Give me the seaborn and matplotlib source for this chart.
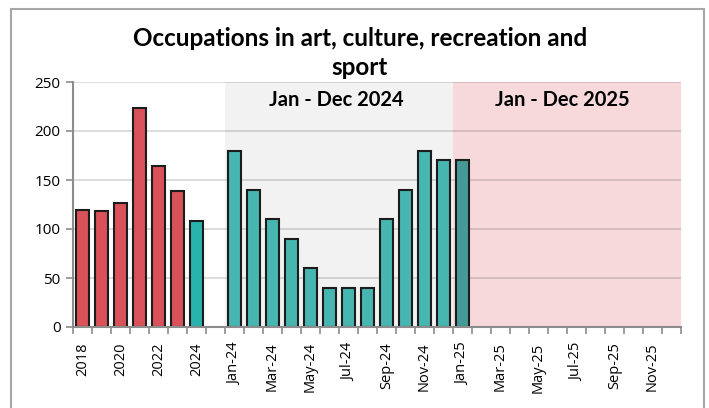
import matplotlib
matplotlib.use("Agg")
import matplotlib.pyplot as plt
import matplotlib.patches as mpatches
import seaborn as sns
import pandas as pd
import numpy as np

# ---- data ----
years = ["2018", "2019", "2020", "2021", "2022", "2023", "2024"]
year_values = [119, 118, 127, 223, 164, 139, 108]
months_2024 = ["Jan-24", "Feb-24", "Mar-24", "Apr-24", "May-24", "Jun-24",
               "Jul-24", "Aug-24", "Sep-24", "Oct-24", "Nov-24", "Dec-24"]
month_values_2024 = [180, 140, 110, 90, 60, 40, 40, 40, 110, 140, 180, 170]
months_2025 = ["Jan-25", "Feb-25", "Mar-25", "Apr-25", "May-25", "Jun-25",
               "Jul-25", "Aug-25", "Sep-25", "Oct-25", "Nov-25", "Dec-25"]
month_values_2025 = [170]
title = "Occupations in art, culture, recreation and\nsport"
region_labels = ["Jan - Dec 2024", "Jan - Dec 2025"]
yticks = [0, 50, 100, 150, 200, 250]

gap = " "
order = years + [gap] + months_2024 + months_2025

cats = years + months_2024 + months_2025[:len(month_values_2025)]
vals = year_values + month_values_2024 + month_values_2025
groups = (["past"] * (len(years) - 1) + ["current"] + ["m24"] * len(months_2024)
          + ["m25"] * len(month_values_2025))
df = pd.DataFrame({"cat": cats, "value": vals, "group": groups})

palette = {"past": "#d9525a", "current": "#29b3ad", "m24": "#47b5b0", "m25": "#459a97"}

plt.rcParams["font.family"] = ["Open Sans", "DejaVu Sans"]
fig = plt.figure(figsize=(7.09, 4.08), dpi=100)
ax = fig.add_axes([73 / 709, 1 - 327 / 408, (681 - 73) / 709, (327 - 82) / 408])

pos = {c: i for i, c in enumerate(order)}
i24 = pos[months_2024[0]] - 0.5
i25 = pos[months_2025[0]] - 0.5
iend = len(order) - 0.5

ax.axvspan(i24, i25, color="#f2f2f2", zorder=0, lw=0)
ax.axvspan(i25, iend, color="#f7d9db", zorder=0, lw=0)

sns.barplot(data=df, x="cat", y="value", hue="group", order=order, palette=palette,
            dodge=False, width=0.68, legend=False, ax=ax, zorder=3, saturation=1,
            edgecolor="#1c1c1c", linewidth=1.5, errorbar=None)

ax.set_xlim(-0.5, iend)
ax.set_ylim(0, 250)
ax.set_yticks(yticks)
ax.yaxis.grid(True, color="black", alpha=0.15, lw=1.3, zorder=1)
ax.set_axisbelow(True)
ax.set_xlabel("")
ax.set_ylabel("")

# x ticks: marks at category boundaries, labels at every other category
ax.set_xticks(np.arange(-0.5, iend + 0.01, 1.0))
ax.set_xticklabels([])
lab_pos = [i for i, c in enumerate(order) if c != gap and (i % 2 == 0)]
ax.set_xticks(lab_pos, minor=True)
ax.set_xticklabels([order[i] for i in lab_pos], minor=True, rotation=90, fontsize=10.5)
ax.tick_params(axis="x", which="major", length=5, width=1.2, color="#8c8c8c", direction="out")
ax.tick_params(axis="x", which="minor", length=0, pad=11)
ax.tick_params(axis="y", length=5, width=1.2, color="#8c8c8c", labelsize=11, pad=4)

for s in ["top", "right"]:
    ax.spines[s].set_visible(False)
for s in ["left", "bottom"]:
    ax.spines[s].set_color("#8c8c8c")
    ax.spines[s].set_linewidth(1.5)
    ax.spines[s].set_zorder(4)

ax.text((i24 + i25) / 2 - 0.15, 232, region_labels[0], ha="center", va="center",
        fontsize=14.5, fontweight="bold", family=["Lato", "DejaVu Sans"])
ax.text((i25 + iend) / 2 - 0.25, 232, region_labels[1], ha="center", va="center",
        fontsize=14.5, fontweight="bold", family=["Lato", "DejaVu Sans"])

fig.text(360 / 709, 1 - 53 / 408, title, ha="center", va="center", multialignment="center",
         fontsize=17.5, fontweight="bold", family=["Lato", "DejaVu Sans"], linespacing=1.3)

border = mpatches.Rectangle((11 / 709, -0.05), (704 - 11) / 709, (408 - 9) / 408 + 0.05,
                            transform=fig.transFigure, fill=False, edgecolor="#a6a6a6",
                            lw=1.5, clip_on=False)
fig.patches.append(border)

fig.savefig("out.png", dpi=100)
